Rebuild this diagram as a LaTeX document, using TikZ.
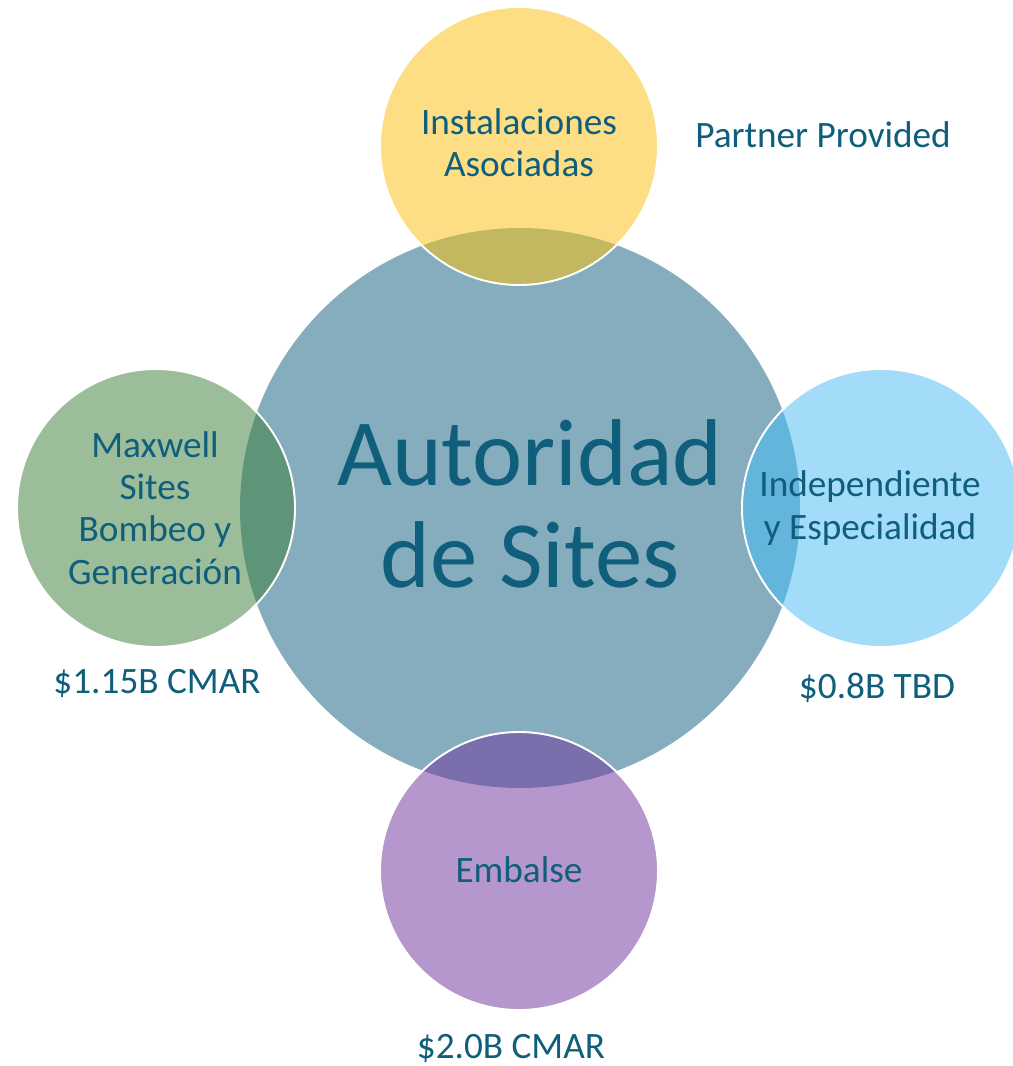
\documentclass[tikz,border=0pt]{standalone}
\usepackage{fontspec}
\setmainfont{Carlito}
\usepackage{tikz}

\definecolor{txtblue}{HTML}{0E5E7C}
\definecolor{bigblue}{HTML}{86ADBD}
\definecolor{yel}{HTML}{FEDE84}
\definecolor{yelmix}{HTML}{C2B860}
\definecolor{grn}{HTML}{9CBD9A}
\definecolor{grnmix}{HTML}{5E9477}
\definecolor{lblue}{HTML}{A3DCF8}
\definecolor{lbluemix}{HTML}{63B5DB}
\definecolor{pur}{HTML}{B596CD}
\definecolor{purmix}{HTML}{7A6EAD}

\begin{document}
\begin{tikzpicture}[x=0.02cm,y=-0.02cm,
  disc/.style={circle,inner sep=0pt,minimum size=5.56cm},
  lbl/.style={text=txtblue,align=center,font=\fontsize{21.2}{24}\selectfont},
  rim/.style={draw=white,line width=1.1pt}]
\useasboundingbox (0,0) rectangle (1012,1066);

\node[circle,inner sep=0pt,minimum size=11.2cm,fill=bigblue] (auto) at (520,508) {};
\node[disc,fill=yel] (inst) at (519,146) {};
\node[disc,fill=grn] (maxw) at (156,508) {};
\node[disc,fill=lblue] (indep) at (881,508) {};
\node[disc,fill=pur] (emb) at (519,871) {};

% overlaps with the centre circle
\begin{scope}
\clip (auto.center) circle (280);
\fill[yelmix] (inst.center) circle (139);
\fill[grnmix] (maxw.center) circle (139);
\fill[lbluemix] (indep.center) circle (139);
\fill[purmix] (emb.center) circle (139);
\end{scope}
\draw[rim] (inst.center) circle (139);
\draw[rim] (maxw.center) circle (139);
\draw[rim] (indep.center) circle (139);
\draw[rim] (emb.center) circle (139);

\node[text=txtblue,align=center,font=\fontsize{54}{58.4}\selectfont] (autotxt) at (530,504) {Autoridad\\de Sites};
\node[lbl] (insttxt) at (519,143) {Instalaciones\\Asociadas};
\node[lbl] (maxwtxt) at (155,508) {Maxwell\\Sites\\Bombeo y\\Generación};
\node[lbl] (indeptxt) at (870,508) {Independiente\\y Especialidad};
\node[lbl] (embtxt) at (519,870) {Embalse};

\node[lbl] (partner) at (823,135) {Partner Provided};
\node[lbl] (cost1) at (157,683) {\$1.15B CMAR};
\node[lbl] (cost2) at (877,688) {\$0.8B TBD};
\node[lbl,inner sep=1pt] (cost3) at (511,1048) {\$2.0B CMAR};
\end{tikzpicture}
\end{document}
